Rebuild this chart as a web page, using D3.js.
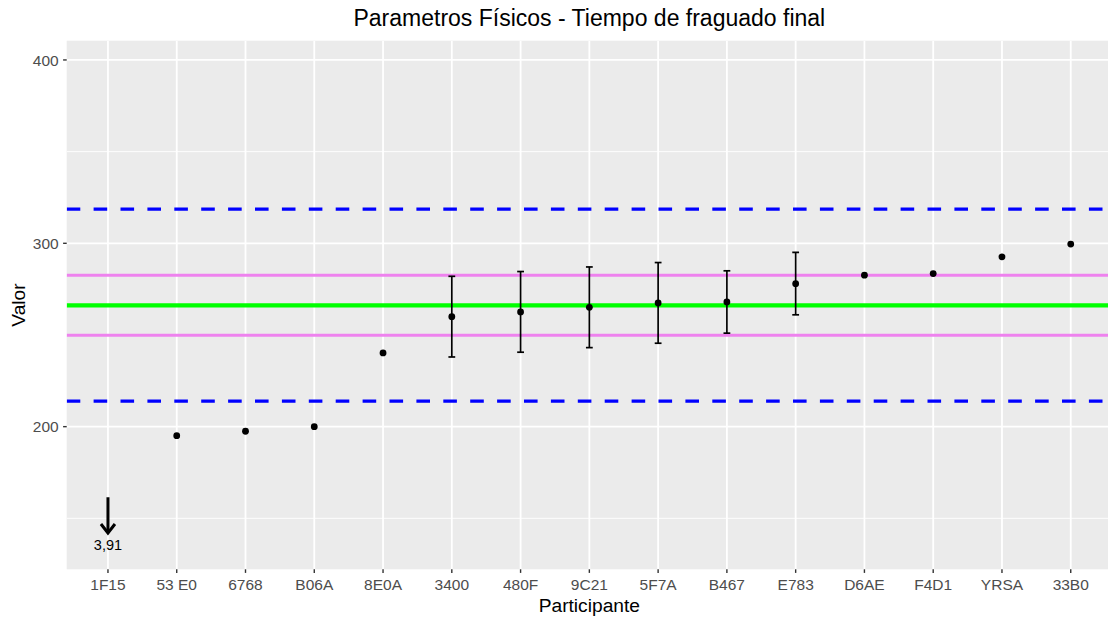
<!DOCTYPE html>
<html><head><meta charset="utf-8">
<script src="https://cdn.jsdelivr.net/npm/d3@7"></script>
<style>html,body{margin:0;padding:0;background:#fff;overflow:hidden}</style>
</head><body>
<svg id="c" width="1108" height="617"></svg>
<script>
const participants = ["1F15","53 E0","6768","B06A","8E0A","3400","480F","9C21","5F7A","B467","E783","D6AE","F4D1","YRSA","33B0"];
const values = [3.91, 195.1, 197.5, 200.0, 240.2, 260.0, 262.6, 265.1, 267.5, 268.0, 278.0, 282.6, 283.5, 292.6, 299.6];
const uncertainty = [null, null, null, null, null, 22, 22, 22, 22, 17, 17, null, null, null, null];
const assignedValue = 266.2;
const innerLimits = [249.8, 282.6];
const outerLimits = [213.9, 318.6];
const yMajorTicks = [200, 300, 400];
const yMinorTicks = [150, 250, 350];
const yDomain = [122.2, 410.5];
const offScaleArrow = [161.5, 142]; // start, end (value units)
const offScaleLabelAt = 135.5;
const title = "Parametros Físicos - Tiempo de fraguado final";
const xTitle = "Participante";
const yTitle = "Valor";

const svg = d3.select("#c");
const P = {left: 66.7, right: 1112, top: 40.7, bottom: 569.3};
const font = "'Liberation Sans', Arial, sans-serif";

const x = d3.scalePoint().domain(participants).range([P.left, P.right]).padding(0.6);
const y = d3.scaleLinear().domain(yDomain).range([P.bottom, P.top]);

const defs = svg.append("defs");
defs.append("clipPath").attr("id","clip").append("rect")
  .attr("x",P.left).attr("y",P.top).attr("width",P.right-P.left).attr("height",P.bottom-P.top);

// panel
svg.append("rect").attr("x",P.left).attr("y",P.top).attr("width",P.right-P.left).attr("height",P.bottom-P.top).attr("fill","#EBEBEB");
const g = svg.append("g").attr("clip-path","url(#clip)");
g.selectAll(".minor").data(yMinorTicks).join("line")
  .attr("x1",P.left).attr("x2",P.right).attr("y1",d=>y(d)).attr("y2",d=>y(d))
  .attr("stroke","#fff").attr("stroke-width",0.9);
g.selectAll(".majorY").data(yMajorTicks).join("line")
  .attr("x1",P.left).attr("x2",P.right).attr("y1",d=>y(d)).attr("y2",d=>y(d))
  .attr("stroke","#fff").attr("stroke-width",1.8);
g.selectAll(".majorX").data(participants).join("line")
  .attr("x1",d=>x(d)).attr("x2",d=>x(d)).attr("y1",P.top).attr("y2",P.bottom)
  .attr("stroke","#fff").attr("stroke-width",1.8);

// reference lines
g.selectAll(".outer").data(outerLimits).join("line")
  .attr("x1",P.left).attr("x2",P.right).attr("y1",d=>y(d)).attr("y2",d=>y(d))
  .attr("stroke","#0000FF").attr("stroke-width",3.3).attr("stroke-dasharray","13.6,13.3");
g.selectAll(".inner").data(innerLimits).join("line")
  .attr("x1",P.left).attr("x2",P.right).attr("y1",d=>y(d)).attr("y2",d=>y(d))
  .attr("stroke","#EE82EE").attr("stroke-width",3);
g.append("line").attr("x1",P.left).attr("x2",P.right).attr("y1",y(assignedValue)).attr("y2",y(assignedValue))
  .attr("stroke","#00FF00").attr("stroke-width",4.2);

// data
const data = participants.map((p,i)=>({p, v:values[i], u:uncertainty[i]}));
const inRange = data.filter(d=>d.v>=yDomain[0] && d.v<=yDomain[1]);
const eb = g.selectAll(".eb").data(inRange.filter(d=>d.u!=null)).join("g");
eb.append("line").attr("x1",d=>x(d.p)).attr("x2",d=>x(d.p)).attr("y1",d=>y(d.v-d.u)).attr("y2",d=>y(d.v+d.u))
  .attr("stroke","#000").attr("stroke-width",1.7);
eb.append("line").attr("x1",d=>x(d.p)-3.4).attr("x2",d=>x(d.p)+3.4).attr("y1",d=>y(d.v-d.u)).attr("y2",d=>y(d.v-d.u))
  .attr("stroke","#000").attr("stroke-width",1.7);
eb.append("line").attr("x1",d=>x(d.p)-3.4).attr("x2",d=>x(d.p)+3.4).attr("y1",d=>y(d.v+d.u)).attr("y2",d=>y(d.v+d.u))
  .attr("stroke","#000").attr("stroke-width",1.7);
g.selectAll(".pt").data(inRange).join("circle")
  .attr("cx",d=>x(d.p)).attr("cy",d=>y(d.v)).attr("r",3.4).attr("fill","#000");

// off-scale arrows
const off = data.filter(d=>d.v<yDomain[0]);
off.forEach(d=>{
  const cx = x(d.p), y0 = y(offScaleArrow[0]), y1 = y(offScaleArrow[1]);
  g.append("line").attr("x1",cx).attr("x2",cx).attr("y1",y0).attr("y2",y1-1).attr("stroke","#000").attr("stroke-width",3);
  g.append("path").attr("d",`M${cx-7},${y1-9}L${cx},${y1}L${cx+7},${y1-9}`)
    .attr("fill","none").attr("stroke","#000").attr("stroke-width",3).attr("stroke-linejoin","miter");
  g.append("text").attr("x",cx).attr("y",y(offScaleLabelAt)).attr("dy","0.35em").attr("text-anchor","middle")
    .attr("font-family",font).attr("font-size",14.5).attr("fill","#000").text(String(d.v).replace(".",","));
});

// axes
const ax = svg.append("g");
ax.selectAll(".xt").data(participants).join("line")
  .attr("x1",d=>x(d)).attr("x2",d=>x(d)).attr("y1",P.bottom).attr("y2",P.bottom+3.6)
  .attr("stroke","#333").attr("stroke-width",1.4);
ax.selectAll(".xl").data(participants).join("text")
  .attr("x",d=>x(d)).attr("y",P.bottom+21).attr("text-anchor","middle")
  .attr("font-family",font).attr("font-size",15.5).attr("fill","#4D4D4D").text(d=>d);
ax.selectAll(".yt").data(yMajorTicks).join("line")
  .attr("x1",P.left-3.6).attr("x2",P.left).attr("y1",d=>y(d)).attr("y2",d=>y(d))
  .attr("stroke","#333").attr("stroke-width",1.4);
ax.selectAll(".yl").data(yMajorTicks).join("text")
  .attr("x",P.left-8).attr("y",d=>y(d)).attr("dy","0.36em").attr("text-anchor","end")
  .attr("font-family",font).attr("font-size",15.5).attr("fill","#4D4D4D").text(d=>d);

svg.append("text").attr("x",(P.left+P.right)/2).attr("y",612).attr("text-anchor","middle")
  .attr("font-family",font).attr("font-size",19.2).attr("fill","#000").text(xTitle);
svg.append("text").attr("transform",`translate(25,${(P.top+P.bottom)/2}) rotate(-90)`).attr("text-anchor","middle")
  .attr("font-family",font).attr("font-size",19.2).attr("fill","#000").text(yTitle);
svg.append("text").attr("x",(P.left+P.right)/2).attr("y",26).attr("text-anchor","middle")
  .attr("font-family",font).attr("font-size",23).attr("fill","#000").text(title);
</script>
</body></html>
